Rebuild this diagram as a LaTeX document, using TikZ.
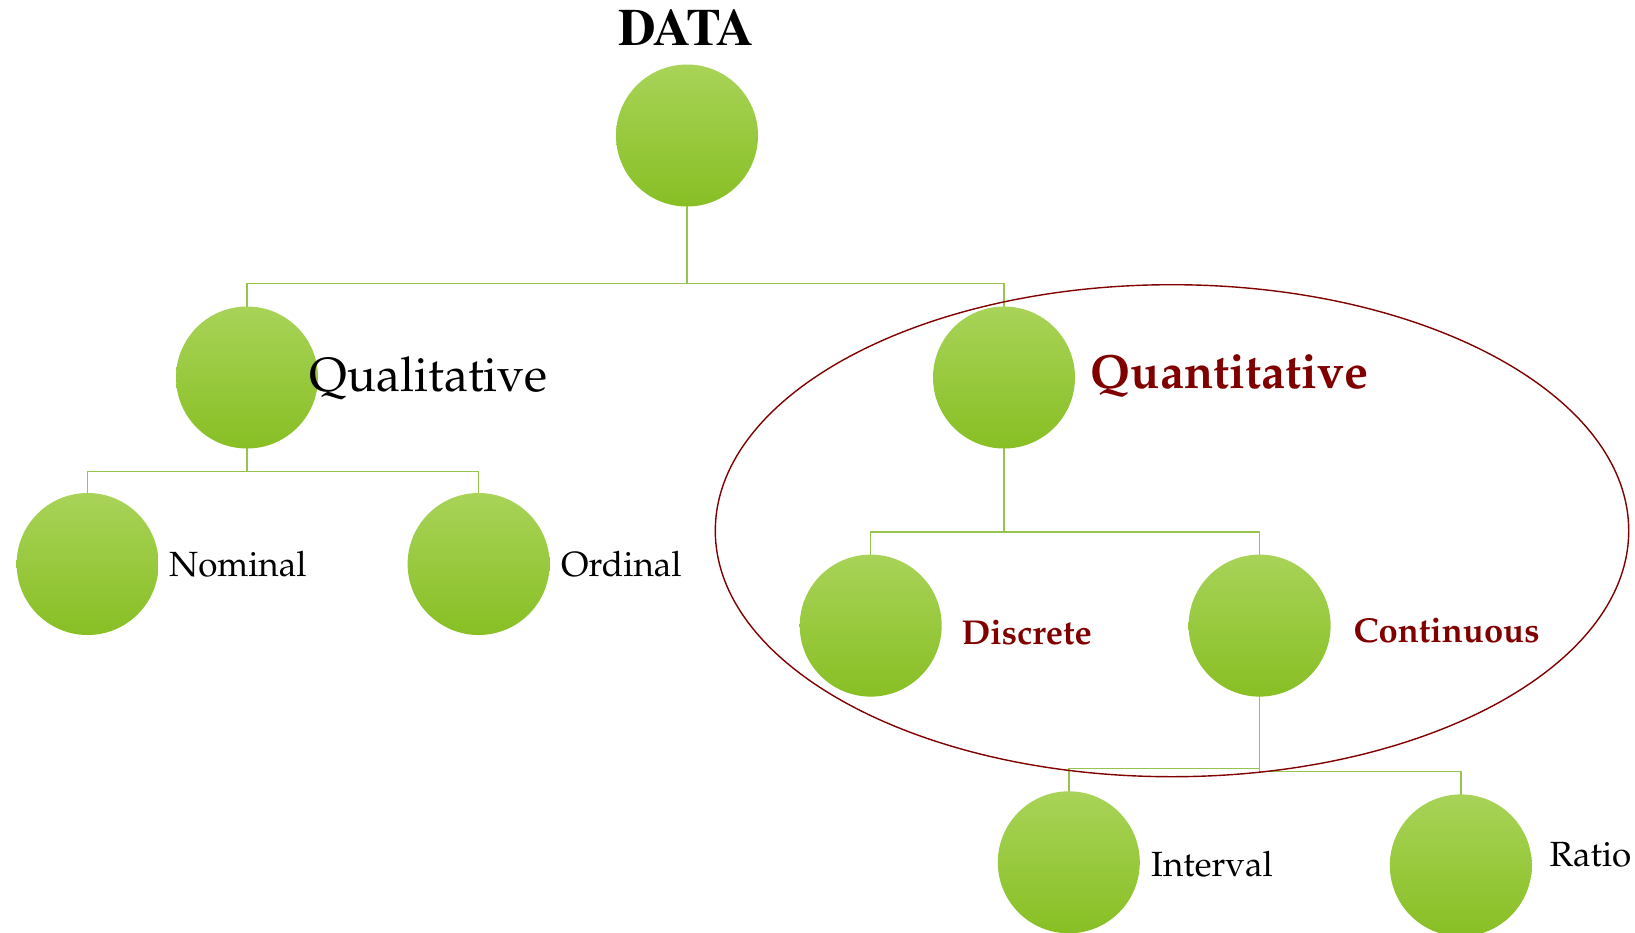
\documentclass[tikz,border=0pt]{standalone}
\usepackage[T1]{fontenc}
\usepackage{mathpazo}
\definecolor{balltop}{RGB}{168,211,88}
\definecolor{ballmid}{RGB}{156,207,50}
\definecolor{ballbot}{RGB}{136,191,36}
\definecolor{linegreen}{RGB}{150,196,78}
\definecolor{darkred}{RGB}{128,0,0}
\begin{document}
\begin{tikzpicture}[x=1pt,y=-1pt,
  ball/.style={circle, minimum size=142pt, inner sep=0pt, top color=balltop, middle color=ballmid, bottom color=ballbot, draw=none},
  link/.style={draw=linegreen, line width=1.4pt},
  ring/.style={draw=darkred, line width=1.4pt},
  lbl/.style={anchor=west, inner sep=0pt, font=\fontsize{35}{40}\selectfont},
  lblred/.style={lbl, text=darkred, font=\fontsize{34.5}{40}\selectfont\bfseries},
  biglbl/.style={anchor=west, inner sep=0pt, font=\fontsize{48}{54}\selectfont},
]
\useasboundingbox (0,0) rectangle (1635,932);

% junction points
\coordinate (j1) at (687,283.6);
\coordinate (j2) at (247,471.3);
\coordinate (j3) at (1004,531.8);
\coordinate (j4) at (1259.6,768.6);
\coordinate (j5) at (1259.6,771.7);

% connectors
\draw[link] (687,135.5) -- (j1);
\draw[link] (247,377.5) |- (j1) -| (1004,377.5);
\draw[link] (247,377.5) -- (j2);
\draw[link] (87.6,564) |- (j2) -| (478.6,564);
\draw[link] (1004,377.5) -- (j3);
\draw[link] (870.7,625.6) |- (j3) -| (1259.6,625.6);
\draw[link] (1259.6,625.6) -- (j5);
\draw[link] (j4) -| (1068.8,862.3);
\draw[link] (j5) -| (1460.8,865.4);

% circles
\node[ball] (data) at (687,135.5) {};
\node[ball] (qual) at (247,377.5) {};
\node[ball] (quant) at (1004,377.5) {};
\node[ball] (nom) at (87.6,564) {};
\node[ball] (ord) at (478.6,564) {};
\node[ball] (disc) at (870.7,625.6) {};
\node[ball] (cont) at (1259.6,625.6) {};
\node[ball] (intv) at (1068.8,862.3) {};
\node[ball] (ratio) at (1460.8,865.4) {};

% ellipse
\draw[ring] (1172,530.7) ellipse [x radius=456.7, y radius=246];

% labels
\node[inner sep=0pt, font=\fontfamily{ptm}\fontsize{52}{58}\selectfont\bfseries] (tdata) at (686,28) {DATA};
\node[biglbl] (tqual) at (309.7,379) {Qualitative};
\node[biglbl, text=darkred, font=\fontsize{48}{54}\selectfont\bfseries] (tquant) at (1090.7,376) {Quantitative};
\node[lbl] (tnom) at (169,564) {Nominal};
\node[lbl] (tord) at (561,564) {Ordinal};
\node[lblred] (tdisc) at (961.4,633) {Discrete};
\node[lblred] (tcont) at (1353.5,631) {Continuous};
\node[lbl] (tint) at (1151,864) {Interval};
\node[lbl] (trat) at (1549.5,855) {Ratio};
\end{tikzpicture}
\end{document}
